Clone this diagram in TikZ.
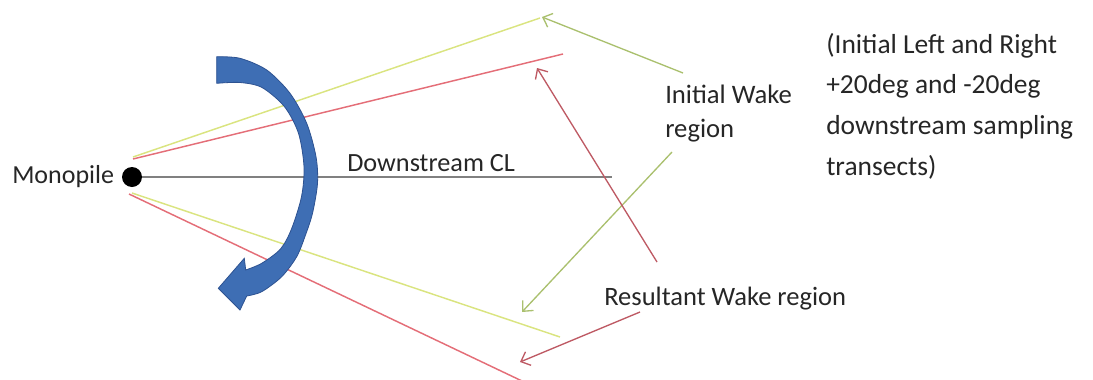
\documentclass[tikz,border=0pt]{standalone}
\usepackage{fontspec}
\setmainfont{Carlito}
\usetikzlibrary{arrows.meta}

\definecolor{wakeyellow}{RGB}{218,228,128}
\definecolor{wakered}{RGB}{228,110,120}
\definecolor{ptrgreen}{RGB}{170,192,110}
\definecolor{ptrred}{RGB}{190,90,100}
\definecolor{clgray}{RGB}{128,128,128}
\definecolor{arrowblue}{RGB}{62,110,180}
\definecolor{arrowedge}{RGB}{45,82,145}

\begin{document}
\begin{tikzpicture}[x=0.75pt,y=-0.75pt,
    transect/.style={line width=1.1pt},
    pointer/.style={line width=1pt,-{Straight Barb[length=6pt,width=11pt]}},
    lbl/.style={inner sep=0pt,anchor=base west,text=black!85}]

        \useasboundingbox (0,0) rectangle (1093,379);

        % Monopile and centre line
        \node[circle,fill=black,inner sep=0pt,minimum size=15pt] (pile) at (132,177) {};
        \node[lbl,font=\fontsize{19.5}{22}\selectfont] (pilelbl) at (12,183) {Monopile};
        \coordinate (clend) at (612,177);
        \draw[clgray,line width=2pt] (pile) -- (clend);
        \node[lbl,font=\fontsize{19.7}{21}\selectfont] (cllbl) at (347,171.5) {Downstream CL};

        % Transect lines
        \coordinate (ylstart) at (133,157);
        \coordinate (ylend) at (540,18);
        \coordinate (rlstart) at (133,159);
        \coordinate (rlend) at (563,54);
        \coordinate (ylstart2) at (132,193);
        \coordinate (ylend2) at (560,337);
        \coordinate (rlstart2) at (129,194);
        \coordinate (rlend2) at (522,381);
        \draw[wakeyellow,transect] (ylstart) -- (ylend);
        \draw[wakered,transect] (rlstart) -- (rlend);
        \draw[wakeyellow,transect] (ylstart2) -- (ylend2);
        \draw[wakered,transect] (rlstart2) -- (rlend2);

        % Rotation arrow
        \filldraw[fill=arrowblue,draw=arrowedge,line width=0.6pt]
          plot[smooth] coordinates {(216.7,56.7) (240,58.3) (266.7,70) (290,93.3) (306.7,123.3) (316,156.7) (317.5,183.3) (312.5,213.3) (305.5,235) (296.7,256.7) (281.7,276.7) (261.7,291.7) (246.7,296)}
          -- (240,310) -- (218.3,288.3) -- (244.3,258.3) -- (245.7,270)
          -- plot[smooth] coordinates {(245.7,270) (261.7,263.3) (280.5,249) (291.5,229) (301.5,196.7) (304,166.7) (298.5,133.3) (284.5,106.7) (262,87.5) (240,82.5) (216.7,83.3)}
          -- cycle;

        % Labels (base = last line)
        \node[lbl,align=left,font=\fontsize{20}{25.5}\selectfont] (initlbl) at (665,137) {Initial Wake\\region};
        \node[lbl,font=\fontsize{19.9}{21}\selectfont] (reslbl) at (604,305) {Resultant Wake region};
        \node[lbl,align=left,font=\fontsize{20.6}{30.5}\selectfont] (notelbl) at (826,175)
          {(Initial Left and Right\\+20deg and -20deg\\downstream sampling\\transects)};

        % Pointers
        \coordinate (initA) at (683,73);
        \coordinate (initB) at (672,152);
        \coordinate (resA) at (657,262);
        \coordinate (resB) at (640,312);
        \coordinate (tipA) at (542,17);
        \coordinate (tipB) at (522,312);
        \coordinate (tipC) at (537,68);
        \coordinate (tipD) at (520,362);
        \draw[ptrgreen,pointer] (initA) -- (tipA);
        \draw[ptrgreen,pointer] (initB) -- (tipB);
        \draw[ptrred,pointer] (resA) -- (tipC);
        \draw[ptrred,pointer] (resB) -- (tipD);
      \end{tikzpicture}
\end{document}
